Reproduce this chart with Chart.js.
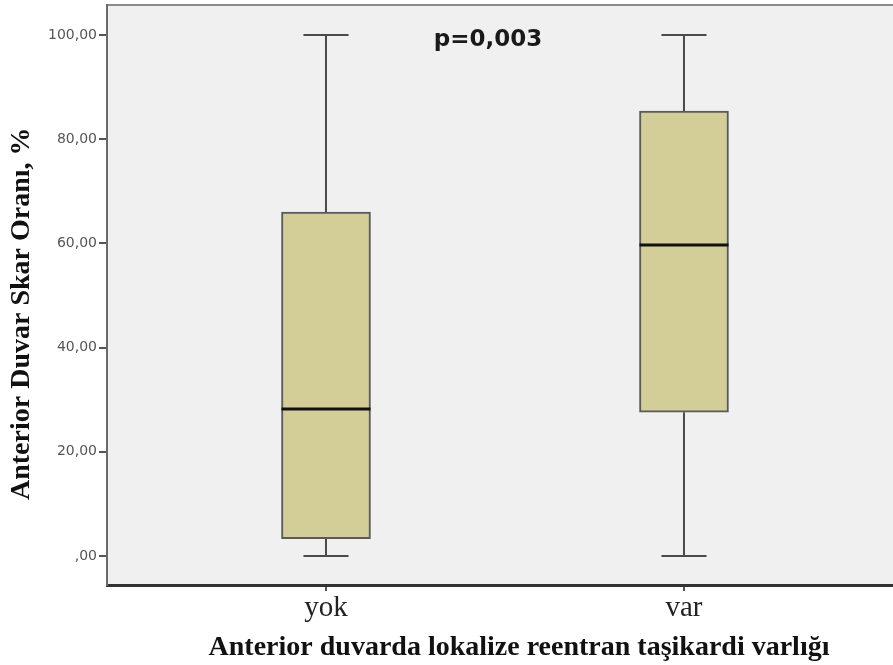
<!DOCTYPE html>
<html>
<head>
<meta charset="utf-8">
<script src="https://cdn.jsdelivr.net/npm/chart.js@4"></script>
<style>
  html, body { margin: 0; padding: 0; background: #fff; overflow: hidden; }
  #wrap { width: 931px; height: 665px; }
</style>
</head>
<body>
<div id="wrap"><canvas id="myChart"></canvas></div>
<script>
// box plot values
const categories = ["yok", "var"];
const whiskerMin = [0, 0];
const q1Values = [3.3, 27.6];
const medianValues = [28.2, 59.7];
const q3Values = [66.0, 85.4];
const whiskerMax = [100, 100];
const yTicks = [0, 20, 40, 60, 80, 100];
const pText = "p=0,003";
const yTitle = "Anterior Duvar Skar Oranı, %";

const boxData = categories.map((c, i) => ({ x: i + 1, y: [q1Values[i], q3Values[i]] }));

// whiskers, caps and medians drawn on the library's scales
const boxExtras = {
  id: "boxExtras",
  beforeDraw(chart) {
    const { ctx, chartArea: a } = chart;
    ctx.save();
    ctx.fillStyle = "#f0f0f0";
    ctx.fillRect(a.left, a.top, a.right - a.left, a.bottom - a.top);
    ctx.strokeStyle = "#8a8a8a";
    ctx.lineWidth = 2;
    ctx.beginPath();
    ctx.moveTo(a.left, a.top);
    ctx.lineTo(a.right, a.top);
    ctx.stroke();
    ctx.restore();
  },
  beforeDatasetsDraw(chart) {
    const { ctx } = chart;
    const x = chart.scales.x, y = chart.scales.y;
    ctx.save();
    ctx.strokeStyle = "#4a4a4a";
    ctx.lineWidth = 2;
    categories.forEach((c, i) => {
      const px = x.getPixelForValue(i + 1);
      const capL = x.getPixelForValue(i + 1 - 0.063);
      const capR = x.getPixelForValue(i + 1 + 0.063);
      ctx.beginPath();
      ctx.moveTo(px, y.getPixelForValue(q3Values[i]));
      ctx.lineTo(px, y.getPixelForValue(whiskerMax[i]));
      ctx.moveTo(px, y.getPixelForValue(q1Values[i]));
      ctx.lineTo(px, y.getPixelForValue(whiskerMin[i]));
      ctx.moveTo(capL, y.getPixelForValue(whiskerMax[i]));
      ctx.lineTo(capR, y.getPixelForValue(whiskerMax[i]));
      ctx.moveTo(capL, y.getPixelForValue(whiskerMin[i]));
      ctx.lineTo(capR, y.getPixelForValue(whiskerMin[i]));
      ctx.stroke();
    });
    ctx.restore();
  },
  afterDatasetsDraw(chart) {
    const { ctx } = chart;
    const x = chart.scales.x, y = chart.scales.y;
    const meta = chart.getDatasetMeta(0);
    ctx.save();
    ctx.strokeStyle = "#111";
    ctx.lineWidth = 3;
    meta.data.forEach((bar, i) => {
      const half = bar.width / 2;
      const py = y.getPixelForValue(medianValues[i]);
      ctx.beginPath();
      ctx.moveTo(bar.x - half, py);
      ctx.lineTo(bar.x + half, py);
      ctx.stroke();
    });
    ctx.fillStyle = "#1a1a1a";
    ctx.font = "bold 23px 'DejaVu Sans'";
    ctx.textAlign = "center";
    ctx.textBaseline = "middle";
    ctx.fillText(pText, x.getPixelForValue(1.4525), y.getPixelForValue(99));

    // y axis title, a bit below the axis middle as in the original
    ctx.fillStyle = "#111";
    ctx.font = "bold 28px 'Liberation Serif'";
    ctx.translate(22, y.getPixelForValue(46.5));
    ctx.rotate(-Math.PI / 2);
    ctx.fillText(yTitle, 0, 0);
    ctx.restore();
  }
};

const ctx = document.getElementById("myChart").getContext("2d");
new Chart(ctx, {
  type: "bar",
  data: {
    datasets: [
      {
        data: boxData,
        backgroundColor: "#d3ce98",
        borderColor: "#5a5a5a",
        borderWidth: 2,
        borderSkipped: false,
        barThickness: 89,
      },
    ],
  },
  options: {
    responsive: true,
    maintainAspectRatio: false,
    animation: false,
    layout: { padding: { top: 0, right: 0, left: 0, bottom: 0 } },
    plugins: { legend: { display: false }, tooltip: { enabled: false } },
    scales: {
      x: {
        type: "linear",
        offset: false,
        min: 0.3883,
        max: 2.69,
        afterBuildTicks: (scale) => {
          scale.ticks = categories.map((c, i) => ({ value: i + 1 }));
        },
        afterFit: (scale) => { scale.height = 80; },
        ticks: {
          callback: (v) => categories[v - 1],
          color: "#222",
          font: { family: "'Liberation Serif'", size: 29 },
          padding: 0,
          maxRotation: 0,
        },
        grid: { offset: false, drawOnChartArea: false, tickLength: 6, color: "#555", lineWidth: 2 },
        border: { color: "#333", width: 3 },
        title: {
          display: true,
          text: "Anterior duvarda lokalize reentran taşikardi varlığı",
          color: "#111",
          font: { family: "'Liberation Serif'", size: 28, weight: "bold" },
          padding: { top: 0, bottom: 0 },
        },
      },
      y: {
        min: -5.57,
        max: 105.76,
        afterBuildTicks: (scale) => {
          scale.ticks = yTicks.map((v) => ({ value: v }));
        },
        afterFit: (scale) => {
          scale.width = 107;
          scale.paddingTop = 5;
        },
        ticks: {
          callback: (v) => (v === 0 ? ",00" : v.toFixed(2).replace(".", ",")),
          color: "#555",
          font: { family: "'DejaVu Sans'", size: 14, lineHeight: 0.7 },
          padding: 2,
        },
        grid: { drawOnChartArea: false, tickLength: 8, color: "#555", lineWidth: 2 },
        border: { color: "#6a6a6a", width: 2 },
      },
    },
  },
  plugins: [boxExtras],
});
</script>
</body>
</html>
